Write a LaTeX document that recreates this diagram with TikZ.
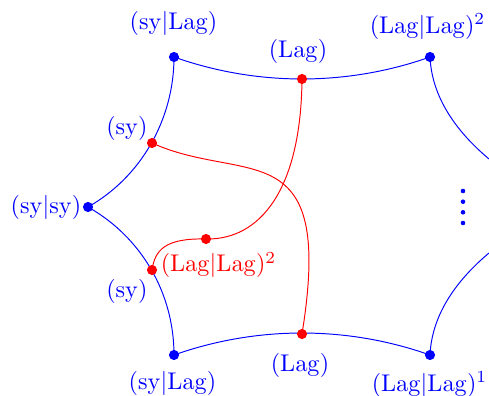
\documentclass[tikz,border=0pt]{standalone}
\usetikzlibrary{backgrounds}
\begin{document}
\begin{tikzpicture}[x=0.414pt,y=-0.414pt,
  vdot/.style={circle,fill=blue,inner sep=0pt,minimum size=4.2pt},
  rdot/.style={circle,fill=red,inner sep=0pt,minimum size=4.2pt},
  sdot/.style={circle,fill=blue,inner sep=0pt,minimum size=1.9pt},
  blab/.style={text=blue,anchor=base,inner sep=0pt},
  rlab/.style={text=red,anchor=base,inner sep=0pt},
  bedge/.style={blue,line width=0.4pt},
  redge/.style={red,line width=0.4pt}]
\useasboundingbox (0,0) rectangle (489,396);
% vertices
\node[vdot] (A) at (174,57) {};
\node[vdot] (B) at (430,57) {};
\node[vdot] (C) at (88,207) {};
\node[vdot] (D) at (174,355) {};
\node[vdot] (E) at (430,355) {};
\coordinate (Fu) at (489,159);
\coordinate (Fd) at (489,253);
% red points
\node[rdot] (L1) at (302,79) {};
\node[rdot] (S1) at (152,143) {};
\node[rdot] (M) at (206,239) {};
\node[rdot] (S2) at (152,270) {};
\node[rdot] (L2) at (302,334) {};
% dots
\node[sdot] (v1) at (463,191) {};
\node[sdot] (v2) at (463,201.7) {};
\node[sdot] (v3) at (463,212.3) {};
\node[sdot] (v4) at (463,223) {};
\begin{scope}[on background layer]
\draw[bedge] (A.center) .. controls (256.7,86.3) and (347.3,86.3) .. (B.center);
\draw[bedge] (A.center) .. controls (174,118.6) and (141.6,176.7) .. (C.center);
\draw[bedge] (C.center) .. controls (141.6,237.3) and (174,293.4) .. (D.center);
\draw[bedge] (D.center) .. controls (256.7,325.7) and (347.3,325.7) .. (E.center);
\draw[bedge] (B.center) .. controls (432,102) and (462.2,136.5) .. (Fu);
\draw[bedge] (E.center) .. controls (432,310) and (462.2,275.5) .. (Fd);
\draw[redge] (S1.center) .. controls (245,185) and (335,130) .. (L2.center);
\draw[redge] (L1.center) .. controls (301,190) and (260,240) .. (M.center);
\draw[redge] (M.center) .. controls (165,238) and (155,250) .. (S2.center);
\end{scope}
% labels
\node[blab] (tA) at (173.5,30) {$(\mathrm{sy}|\mathrm{Lag})$};
\node[blab] (tL1) at (298,57.5) {$(\mathrm{Lag})$};
\node[blab] (tB) at (427.5,33.5) {$(\mathrm{Lag}|\mathrm{Lag})^2$};
\node[blab] (tS1) at (127,135) {$(\mathrm{sy})$};
\node[blab] (tC) at (46,213.5) {$(\mathrm{sy}|\mathrm{sy})$};
\node[blab] (tS2) at (127,298) {$(\mathrm{sy})$};
\node[rlab] (tM) at (218.5,272) {$(\mathrm{Lag}|\mathrm{Lag})^2$};
\node[blab] (tD) at (172.5,390) {$(\mathrm{sy}|\mathrm{Lag})$};
\node[blab] (tL2) at (300,371) {$(\mathrm{Lag})$};
\node[blab] (tE) at (429.5,391) {$(\mathrm{Lag}|\mathrm{Lag})^1$};
\end{tikzpicture}
\end{document}
